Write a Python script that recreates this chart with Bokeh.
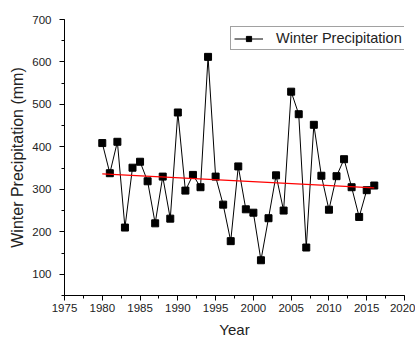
import numpy as np
from bokeh.plotting import figure
from bokeh.models import SingleIntervalTicker, Range1d, Legend, LegendItem
from bokeh.embed import file_html
from bokeh.resources import INLINE

years = list(range(1980, 2017))
precip = [409, 338, 412, 210, 351, 365, 319, 220, 330, 231,
          481, 297, 334, 305, 612, 330, 264, 178, 354, 253,
          245, 133, 232, 333, 250, 530, 477, 163, 452, 332,
          252, 331, 371, 305, 235, 298, 309]
series_label = "Winter Precipitation"
x_label = "Year"
y_label = "Winter Precipitation (mm)"

FONT = "Arial"

p = figure(width=415, height=340, output_backend="svg", toolbar_location=None,
           x_range=Range1d(1975, 2020), y_range=Range1d(50, 700),
           min_border_left=64, min_border_right=11, min_border_top=19,
           min_border_bottom=43)
p.outline_line_color = None
p.xgrid.visible = False
p.ygrid.visible = False
p.background_fill_color = "white"
p.border_fill_color = "white"

ln = p.line(years, precip, line_color="black", line_width=1)
sc = p.scatter(years, precip, marker="square", size=7, fill_color="black",
               line_color="black")

# linear trend fitted to the series
coef = np.polyfit(years, precip, 1)
tx = [years[0], years[-1]]
ty = [coef[0] * t + coef[1] for t in tx]
p.line(tx, ty, line_color="red", line_width=1.3)

p.xaxis.ticker = SingleIntervalTicker(interval=5, num_minor_ticks=2)
p.yaxis.ticker = SingleIntervalTicker(interval=100, num_minor_ticks=2)
for ax in (p.xaxis[0], p.yaxis[0]):
    ax.axis_line_color = "black"
    ax.major_tick_line_color = "black"
    ax.minor_tick_line_color = "black"
    ax.major_tick_in = 0
    ax.major_tick_out = 5
    ax.minor_tick_in = 0
    ax.minor_tick_out = 3
    ax.major_label_text_font = FONT
    ax.major_label_text_font_size = "11.5px"
    ax.major_label_text_color = "#222222"
    ax.axis_label_text_font = FONT
    ax.axis_label_text_font_style = "normal"
    ax.axis_label_text_color = "#222222"
p.xaxis.axis_label_text_font_size = "15px"
p.yaxis.axis_label_text_font_size = "16px"
p.xaxis.axis_label = x_label
p.yaxis.axis_label = y_label
p.xaxis.major_label_standoff = 3
p.yaxis.major_label_standoff = 8
p.xaxis.axis_label_standoff = 6
p.yaxis.axis_label_standoff = 3

legend = Legend(items=[LegendItem(label=series_label, renderers=[ln, sc])],
                location=(166, 245), margin=0, padding=3, spacing=0,
                glyph_width=29, glyph_height=13, label_height=13,
                label_standoff=13, label_text_font=FONT,
                label_text_font_size="14.5px", label_text_color="#222222",
                border_line_color="#444444", border_line_width=1,
                background_fill_alpha=1)
p.add_layout(legend)

open("out.html", "w").write(file_html(p, INLINE))
